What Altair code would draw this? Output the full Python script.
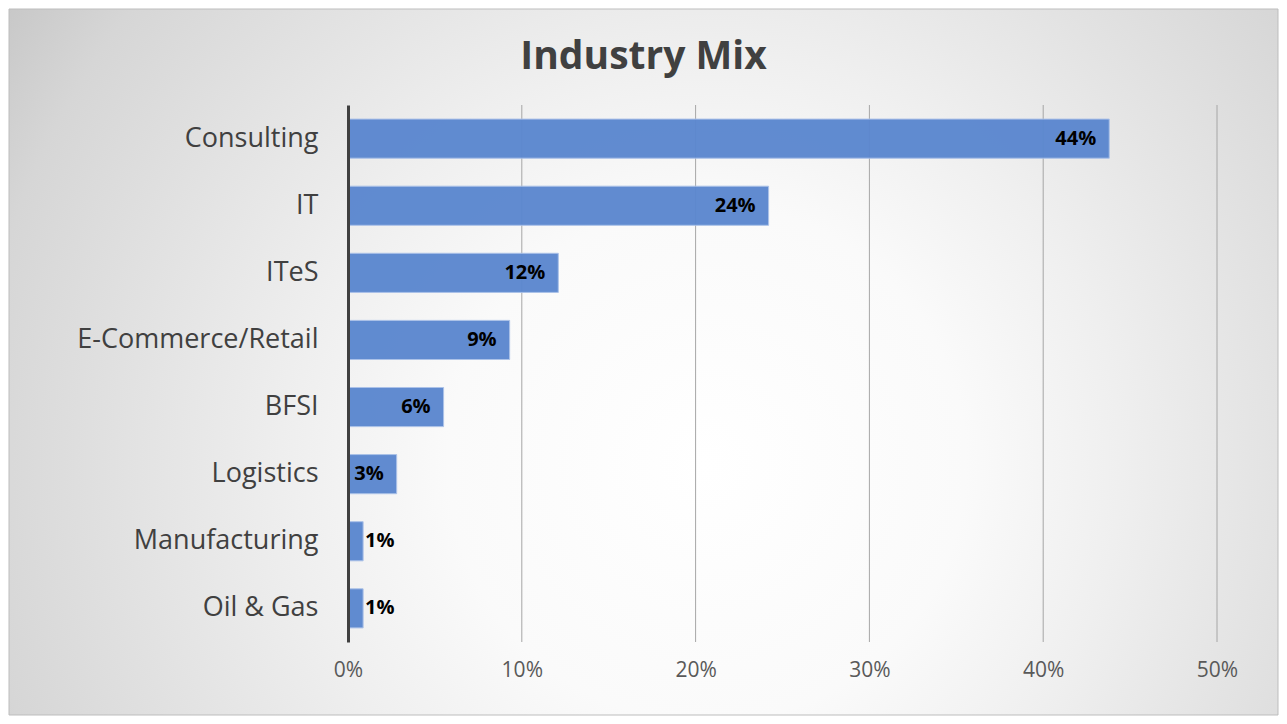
import altair as alt
import pandas as pd

categories = ["Consulting", "IT", "ITeS", "E-Commerce/Retail", "BFSI", "Logistics", "Manufacturing", "Oil & Gas"]
values = [0.438, 0.242, 0.121, 0.093, 0.055, 0.028, 0.0087, 0.0087]
labels = ["44%", "24%", "12%", "9%", "6%", "3%", "1%", "1%"]
grid_ticks = [0.1, 0.2, 0.3, 0.4, 0.5]

df = pd.DataFrame({"cat": categories, "val": values, "lab": labels})
df["inside"] = df["val"] > 0.02
grid_df = pd.DataFrame({"t": grid_ticks})

W, H = 869, 537
PL, PT, PR, PB = 340, 97, 62, 74

FONT = "Open Sans"

xscale = alt.Scale(domain=[0, 0.5], nice=False, zero=True)
yscale = alt.Scale(domain=categories, paddingInner=0.417, paddingOuter=0.21)

grad = {
    "gradient": "radial",
    "x1": 0.55, "y1": 0.58, "r1": 0.0,
    "x2": 0.55, "y2": 0.58, "r2": 0.68,
    "stops": [
        {"offset": 0.0, "color": "#ffffff"},
        {"offset": 0.3, "color": "#fafafa"},
        {"offset": 0.48, "color": "#efefef"},
        {"offset": 0.85, "color": "#d6d6d6"},
        {"offset": 1.0, "color": "#c4c4c4"},
    ],
}

bg = alt.Chart(pd.DataFrame({"a": [0]})).mark_rect(
    fill=grad, stroke="#bdbdbd", strokeWidth=1
).encode(
    x=alt.value(-PL + 1), x2=alt.value(W + PR - 1),
    y=alt.value(-PT + 1), y2=alt.value(H + PB - 1),
)

grid = alt.Chart(grid_df).mark_rule(color="#a6a6a6", strokeWidth=1).encode(
    x=alt.X("t:Q", scale=xscale,
            axis=alt.Axis(format="%", values=[0, 0.1, 0.2, 0.3, 0.4, 0.5], grid=False,
                          domain=False, ticks=False, labelFontSize=21, labelFont=FONT,
                          labelColor="#595959", labelPadding=17, labelFlush=False,
                          title=None, zindex=1)),
)

bars = alt.Chart(df).mark_bar(color="#5B87CF", stroke="#a9c0e8", strokeWidth=1, opacity=0.96).encode(
    x=alt.X("val:Q", scale=xscale),
    y=alt.Y("cat:N", scale=yscale, sort=categories,
            axis=alt.Axis(domain=True, domainColor="#404040", domainWidth=3, ticks=False,
                          grid=False, labelFontSize=27, labelFont=FONT, labelColor="#404040",
                          labelPadding=30, labelLimit=400, title=None, zindex=1)),
)

txt_in = alt.Chart(df).transform_filter("datum.inside").mark_text(
    align="right", baseline="middle", dx=-13, fontSize=20, fontWeight="bold", font=FONT, color="#000000"
).encode(
    x=alt.X("val:Q", scale=xscale), y=alt.Y("cat:N", scale=yscale, sort=categories), text="lab:N"
)

txt_out = alt.Chart(df).transform_filter("!datum.inside").mark_text(
    align="left", baseline="middle", dx=2, fontSize=20, fontWeight="bold", font=FONT, color="#000000"
).encode(
    x=alt.X("val:Q", scale=xscale), y=alt.Y("cat:N", scale=yscale, sort=categories), text="lab:N"
)

chart = alt.layer(bg, grid, bars, txt_in, txt_out).properties(
    width=W, height=H,
    autosize=alt.AutoSizeParams(type="none"),
    padding={"left": PL, "top": PT, "right": PR, "bottom": PB},
    title=alt.TitleParams("Industry Mix", fontSize=39, fontWeight="bold", font=FONT,
                          color="#404040", anchor="middle", dx=-139, offset=-68),
).configure_view(stroke=None).configure(background="#ffffff")

chart.save("out.html", embed_options={"renderer": "svg", "actions": False})
